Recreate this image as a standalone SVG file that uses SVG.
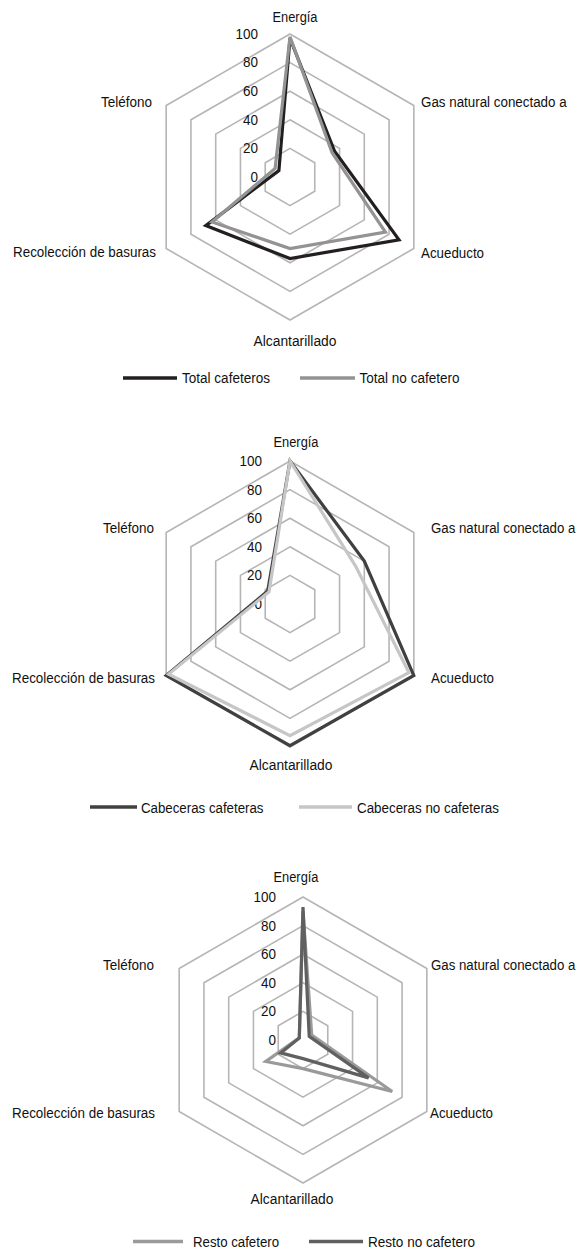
<svg xmlns="http://www.w3.org/2000/svg" width="579" height="1252" viewBox="0 0 579 1252">
<style>
text{font-family:"Liberation Sans",Arial,sans-serif;font-size:15.5px;fill:#111}
.grid{fill:none;stroke:#b5b5b5;stroke-width:1.6}
.s{fill:none;stroke-width:3.2;stroke-linejoin:miter}
.lg{stroke-width:3.4}
.e{text-anchor:end}
.m{text-anchor:middle}
</style>
<defs>
<g id="rings">
<polygon class="grid" points="0,-28.6 24.77,-14.3 24.77,14.3 0,28.6 -24.77,14.3 -24.77,-14.3"/>
<polygon class="grid" points="0,-57.2 49.54,-28.6 49.54,28.6 0,57.2 -49.54,28.6 -49.54,-28.6"/>
<polygon class="grid" points="0,-85.8 74.3,-42.9 74.3,42.9 0,85.8 -74.3,42.9 -74.3,-42.9"/>
<polygon class="grid" points="0,-114.4 99.07,-57.2 99.07,57.2 0,114.4 -99.07,57.2 -99.07,-57.2"/>
<polygon class="grid" points="0,-143 123.84,-71.5 123.84,71.5 0,143 -123.84,71.5 -123.84,-71.5"/>
</g>
</defs>

<!-- Chart 1 -->
<g id="chart1">
<use href="#rings" transform="translate(290,177)"/>
<g id="ticks1">
<text class="e" x="258" y="39" textLength="22.5" lengthAdjust="spacingAndGlyphs">100</text>
<text class="e" x="258" y="67.4" textLength="15" lengthAdjust="spacingAndGlyphs">80</text>
<text class="e" x="258" y="96" textLength="15" lengthAdjust="spacingAndGlyphs">60</text>
<text class="e" x="258" y="124.6" textLength="15" lengthAdjust="spacingAndGlyphs">40</text>
<text class="e" x="258" y="153.2" textLength="15" lengthAdjust="spacingAndGlyphs">20</text>
<text class="e" x="258" y="181.8" textLength="7.5" lengthAdjust="spacingAndGlyphs">0</text>
</g>
<g id="labels1">
<text class="m" x="295" y="21.5" textLength="45" lengthAdjust="spacingAndGlyphs">Energía</text>
<text transform="translate(421,107) scale(0.862,1)">Gas natural conectado a</text>
<text x="421" y="258" textLength="63" lengthAdjust="spacingAndGlyphs">Acueducto</text>
<text class="m" x="295" y="346" textLength="83" lengthAdjust="spacingAndGlyphs">Alcantarillado</text>
<text class="e" x="156" y="257" textLength="143" lengthAdjust="spacingAndGlyphs">Recolección de basuras</text>
<text class="e" x="152" y="107" textLength="51" lengthAdjust="spacingAndGlyphs">Teléfono</text>
</g>
<g id="series1" transform="translate(290,177)">
<polygon class="s" stroke="#231f20" points="0,-138.7 44.6,-25.7 109,62.9 0,81.5 -84.2,48.6 -11.1,-6.4"/>
<polygon class="s" stroke="#939393" points="0,-140.1 42.1,-24.3 95.4,55.1 0,71.5 -78,45 -14.9,-8.6"/>
</g>
<g id="legend1">
<line class="lg" x1="123" y1="378" x2="177" y2="378" stroke="#231f20"/>
<text x="182" y="383" textLength="88" lengthAdjust="spacingAndGlyphs">Total cafeteros</text>
<line class="lg" x1="300" y1="378" x2="355" y2="378" stroke="#939393"/>
<text x="359.5" y="383" textLength="100" lengthAdjust="spacingAndGlyphs">Total no cafetero</text>
</g>
</g>

<!-- Chart 2 -->
<g id="chart2">
<use href="#rings" transform="translate(290,604)"/>
<g id="ticks2">
<text class="e" x="262" y="466" textLength="22.5" lengthAdjust="spacingAndGlyphs">100</text>
<text class="e" x="262" y="494.6" textLength="15" lengthAdjust="spacingAndGlyphs">80</text>
<text class="e" x="262" y="523.2" textLength="15" lengthAdjust="spacingAndGlyphs">60</text>
<text class="e" x="262" y="551.8" textLength="15" lengthAdjust="spacingAndGlyphs">40</text>
<text class="e" x="262" y="580.4" textLength="15" lengthAdjust="spacingAndGlyphs">20</text>
<text class="e" x="262" y="609" textLength="7.5" lengthAdjust="spacingAndGlyphs">0</text>
</g>
<g id="labels2">
<text class="m" x="296" y="447" textLength="45" lengthAdjust="spacingAndGlyphs">Energía</text>
<text transform="translate(431,533) scale(0.856,1)">Gas natural conectado a</text>
<text x="431" y="683" textLength="63" lengthAdjust="spacingAndGlyphs">Acueducto</text>
<text class="m" x="291" y="770" textLength="83" lengthAdjust="spacingAndGlyphs">Alcantarillado</text>
<text class="e" x="155" y="683" textLength="143" lengthAdjust="spacingAndGlyphs">Recolección de basuras</text>
<text class="e" x="154" y="533" textLength="51" lengthAdjust="spacingAndGlyphs">Teléfono</text>
</g>
<g id="series2" transform="translate(290,604)">
<polygon class="s" stroke="#404040" points="0,-143 74.3,-42.9 123.8,71.5 0,141.6 -123.8,71.5 -22.3,-12.9"/>
<polygon class="s" stroke="#c6c6c6" points="0,-143 65.6,-37.9 118.9,68.6 0,131.6 -121.4,70.1 -21,-12.2"/>
</g>
<g id="legend2">
<line class="lg" x1="90" y1="807" x2="137" y2="807" stroke="#404040"/>
<text x="141" y="812.5" textLength="122.5" lengthAdjust="spacingAndGlyphs">Cabeceras cafeteras</text>
<line class="lg" x1="299" y1="807" x2="352" y2="807" stroke="#c6c6c6"/>
<text x="357" y="812.5" textLength="142" lengthAdjust="spacingAndGlyphs">Cabeceras no cafeteras</text>
</g>
</g>

<!-- Chart 3 -->
<g id="chart3">
<use href="#rings" transform="translate(303,1040)"/>
<g id="ticks3">
<text class="e" x="276" y="902" textLength="22.5" lengthAdjust="spacingAndGlyphs">100</text>
<text class="e" x="276" y="930.6" textLength="15" lengthAdjust="spacingAndGlyphs">80</text>
<text class="e" x="276" y="959.2" textLength="15" lengthAdjust="spacingAndGlyphs">60</text>
<text class="e" x="276" y="987.8" textLength="15" lengthAdjust="spacingAndGlyphs">40</text>
<text class="e" x="276" y="1016.4" textLength="15" lengthAdjust="spacingAndGlyphs">20</text>
<text class="e" x="276" y="1045" textLength="7.5" lengthAdjust="spacingAndGlyphs">0</text>
</g>
<g id="labels3">
<text class="m" x="296" y="882" textLength="45" lengthAdjust="spacingAndGlyphs">Energía</text>
<text transform="translate(431,970) scale(0.856,1)">Gas natural conectado a</text>
<text x="430" y="1118" textLength="63" lengthAdjust="spacingAndGlyphs">Acueducto</text>
<text class="m" x="292" y="1204" textLength="83" lengthAdjust="spacingAndGlyphs">Alcantarillado</text>
<text class="e" x="155" y="1118" textLength="143" lengthAdjust="spacingAndGlyphs">Recolección de basuras</text>
<text class="e" x="154" y="970" textLength="51" lengthAdjust="spacingAndGlyphs">Teléfono</text>
</g>
<g id="series3" transform="translate(303,1040)">
<polygon class="s" stroke="#9a9a9a" points="0,-128.7 8.7,-5 89.2,51.5 0,28.6 -37.2,21.5 -3.7,-2.1"/>
<polygon class="s" stroke="#606060" points="0,-133 6.2,-3.6 65.6,37.9 0,18.6 -22.3,12.9 -3.7,-2.1"/>
</g>
<g id="legend3">
<line class="lg" x1="133" y1="1241.5" x2="183" y2="1241.5" stroke="#9a9a9a"/>
<text x="193" y="1246.5" textLength="86" lengthAdjust="spacingAndGlyphs">Resto cafetero</text>
<line class="lg" x1="309" y1="1241.5" x2="363" y2="1241.5" stroke="#606060"/>
<text x="368" y="1246.5" textLength="107" lengthAdjust="spacingAndGlyphs">Resto no cafetero</text>
</g>
</g>
</svg>
